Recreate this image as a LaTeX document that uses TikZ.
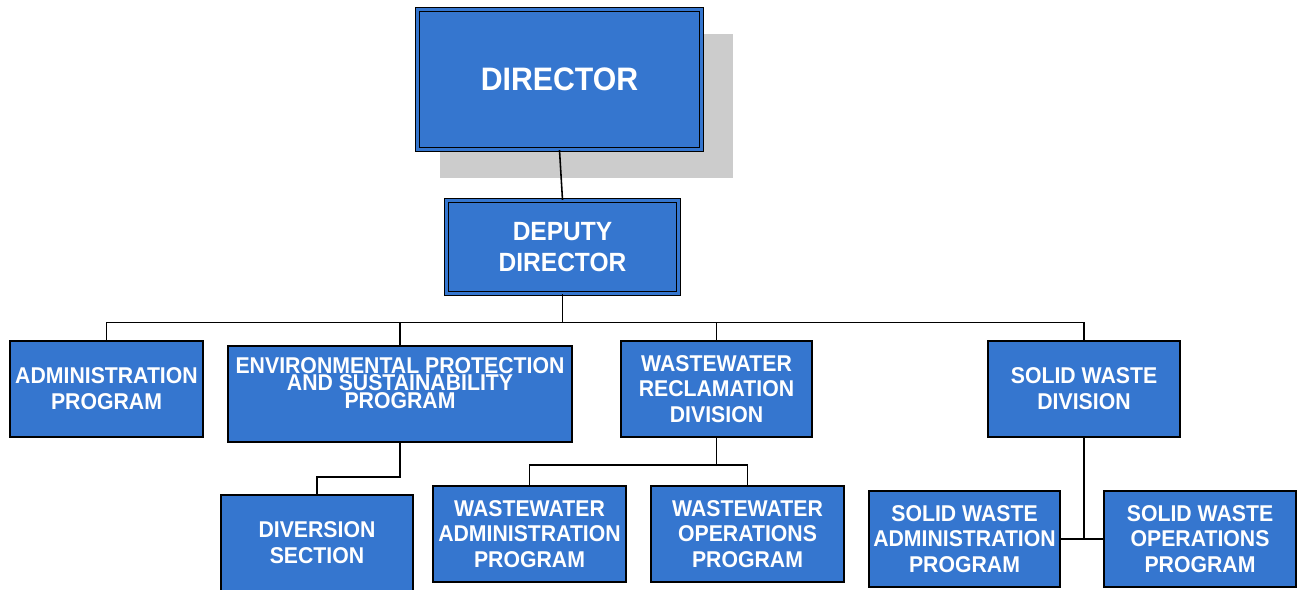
\documentclass[tikz,border=0pt]{standalone}
\usepackage{fontspec}
\setmainfont{Liberation Sans}[FakeStretch=0.93]
\usepackage{tikz}
\usetikzlibrary{shadows}
\definecolor{boxblue}{RGB}{53,118,207}
\definecolor{shadowgray}{RGB}{204,204,204}
\tikzset{
	unit/.style={shape=rectangle, draw=black, line width=1pt, fill=boxblue, text=white, align=center, inner sep=0pt,
		minimum width=3.84cm, minimum height=1.92cm, font=\bfseries\fontsize{13}{14.7}\selectfont},
	head/.style={unit, double=boxblue, double distance=0.05cm, line width=0.72pt},
	wire/.style={line width=0.9pt}
}

\begin{document}
\begin{tikzpicture}[x=0.02cm, y=-0.02cm]
				\useasboundingbox (0, 0) rectangle (1302, 589);
				% Boxes:
				\node[head, minimum width=5.68cm, minimum height=2.8cm, font=\bfseries\fontsize{18.5}{22}\selectfont,
					drop shadow={shadow xshift=0.52cm, shadow yshift=-0.51cm, shadow scale=1.03, fill=shadowgray, opacity=1}](D1) at (559.5, 79.5){DIRECTOR};
				\node[head, minimum width=4.64cm, minimum height=1.86cm, font=\bfseries\fontsize{15}{18.1}\selectfont](D2) at (562.5, 247){DEPUTY\\DIRECTOR};
				\node[unit, minimum width=3.86cm](P1) at (106.5, 389){ADMINISTRATION\\PROGRAM};
				\node[unit, minimum width=6.88cm](P2) at (400, 394){};
				\node[anchor=center, text=white, align=center, font=\bfseries\fontsize{13}{10}\selectfont](T2) at ([yshift=0.22cm]P2.center){ENVIRONMENTAL PROTECTION\\AND SUSTAINABILITY\\PROGRAM};
				\node[unit, minimum width=3.82cm](P3) at (716.5, 389){WASTEWATER\\RECLAMATION\\DIVISION};
				\node[unit](P4) at (1084, 389){SOLID WASTE\\DIVISION};
				\node[unit](S1) at (317, 543){DIVERSION\\SECTION};
				\node[unit, minimum width=3.86cm](W1) at (529.5, 534){WASTEWATER\\ADMINISTRATION\\PROGRAM};
				\node[unit, minimum width=3.86cm](W2) at (747.5, 534){WASTEWATER\\OPERATIONS\\PROGRAM};
				\node[unit, minimum width=3.82cm](S2) at (964.5, 539){SOLID WASTE\\ADMINISTRATION\\PROGRAM};
				\node[unit](S3) at (1200, 539){SOLID WASTE\\OPERATIONS\\PROGRAM};
				% Wires:
				\draw[wire] (D1.south) -- (D2.north);
				\foreach \n in {P1, P2, P3, P4}
					\draw[wire] (D2.south) -- ++(0, 28.5) -| (\n.north);
				\draw[wire] (P2.south) -- ++(0, 34) -| (S1.north);
				\foreach \n in {W1, W2}
					\draw[wire] (P3.south) -- ++(0, 27) -| (\n.north);
				\draw[wire] (P4.south) -- (P4.south |- S2.east);
				\draw[wire] (S2.east) -- (S3.west);
			\end{tikzpicture}
\end{document}
